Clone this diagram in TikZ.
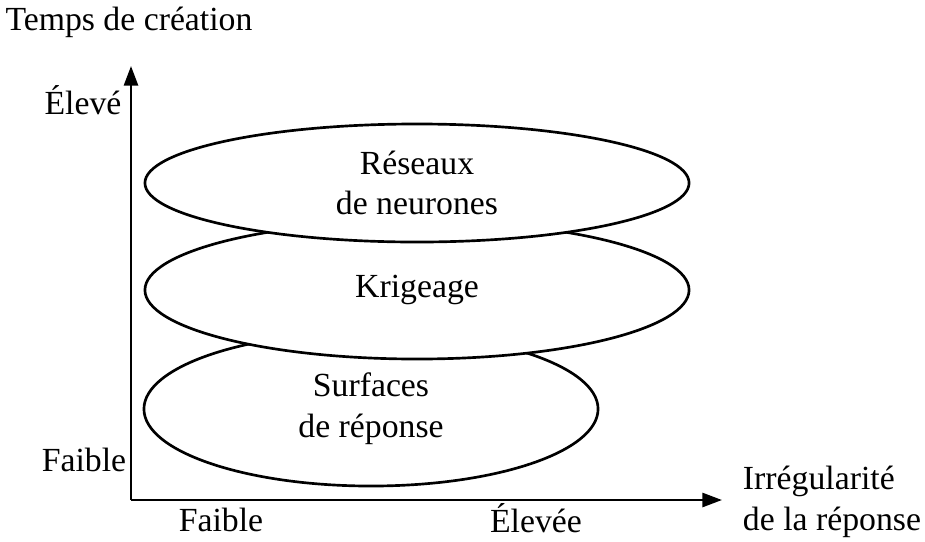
\documentclass[tikz,border=0pt]{standalone}
\usepackage{fontspec}
\setmainfont{Liberation Serif}
\usepackage{tikz}
\usetikzlibrary{shapes,arrows.meta,positioning}

\begin{document}
\begin{tikzpicture}[x=0.025cm,y=-0.025cm,font=\fontsize{24}{29}\selectfont,
  methode/.style={ellipse,draw,fill=white,line width=1.9pt,inner sep=0pt,align=center},
  axe/.style={line width=1.9pt,-{Triangle[length=14pt,width=10pt]}}]
  \useasboundingbox (0,0) rectangle (925,541);
  \coordinate (o) at (131,500);
  \coordinate (ytip) at (131,66);
  \coordinate (xtip) at (722,500);
  \draw[axe] (o) -- (ytip);
  \draw[axe] (o) -- (xtip);
  \node[methode,minimum width=11.35cm,minimum height=3.85cm] (surf) at (371,409) {Surfaces\\de réponse};
  \node[methode,minimum width=13.6cm,minimum height=3.45cm] (krig) at (417,290) {Krigeage};
  \node[methode,minimum width=13.6cm,minimum height=2.95cm] (rn) at (417,183) {Réseaux\\de neurones};
  \node (ylab) at (129,22) {Temps de création};
  \node (yhaut) at (83,100) {Élevé};
  \node (ybas) at (84,460) {Faible};
  \node (xbas) at (221,520) {Faible};
  \node (xhaut) at (536,518) {Élevée};
  \node[align=left] (xlab) at (832,502) {Irrégularité\\de la réponse};
\end{tikzpicture}
\end{document}
